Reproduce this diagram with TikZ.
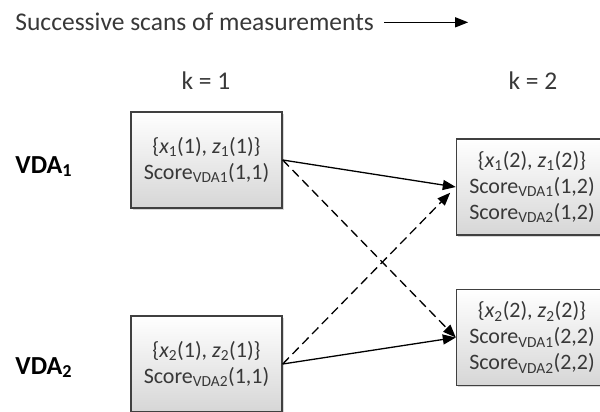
\documentclass[tikz,border=0pt]{standalone}
\usepackage{fontspec}
\setmainfont{Carlito}
\usepackage{xcolor}
\usepackage{tikz}
\usetikzlibrary{positioning, arrows.meta, calc, shadows}
\definecolor{txtgray}{HTML}{383838}
\definecolor{boxline}{HTML}{404040}
\tikzset{
  scanbox/.style={draw=boxline, rectangle, line width=1.4pt, minimum width=151pt,
                  minimum height=96pt, align=center, inner sep=2pt,
                  top color=white, bottom color=black!16, text=txtgray,
                  drop shadow={shadow xshift=1.5pt, shadow yshift=-1.5pt, fill=black!30},
                  font=\fontsize{22}{26}\selectfont},
  flow/.style ={-{Triangle[length=13pt,width=10pt]}, line width=1.3pt},
  cross/.style={flow, dash pattern=on 9pt off 5pt}
}

\begin{document}
\begin{tikzpicture}[
  x=1pt, y=-1pt,
  lbl/.style={font=\fontsize{25.5}{30}\selectfont, text=txtgray, inner sep=0pt},
  vda/.style={font=\fontsize{26}{30}\selectfont\bfseries, inner sep=0pt},
  >=latex, thick
]
  \useasboundingbox (0,0) rectangle (600,412);

  \node[lbl, anchor=base west] (title) at (15,31) {Successive scans of measurements};
  \coordinate (scanend) at ($(title.east)+(94,0)$);
  \draw[flow, line width=1.2pt] ([xshift=10pt]title.east) -- (scanend);

  \node[lbl, anchor=base] (k1) at (206,89) {k = 1};
  \node[lbl, anchor=base] (k2) at (533,89) {k = 2};

  \node[vda, anchor=base west] (v1) at (15,173) {VDA\textsubscript{1}};
  \node[vda, anchor=base west] (v2) at (15,374) {VDA\textsubscript{2}};

  \node[scanbox] (b11) at (206.5,160)
    {\{\textit{x}\textsubscript{1}(1), \textit{z}\textsubscript{1}(1)\}\\
     Score\textsubscript{VDA1}(1,1)};
  \node[scanbox] (b21) at (206.5,364)
    {\{\textit{x}\textsubscript{2}(1), \textit{z}\textsubscript{2}(1)\}\\
     Score\textsubscript{VDA2}(1,1)};
  \node[scanbox] (b12) at (532,187)
    {\{\textit{x}\textsubscript{1}(2), \textit{z}\textsubscript{1}(2)\}\\
     Score\textsubscript{VDA1}(1,2)\\
     Score\textsubscript{VDA2}(1,2)};
  \node[scanbox] (b22) at (532,337.5)
    {\{\textit{x}\textsubscript{2}(2), \textit{z}\textsubscript{2}(2)\}\\
     Score\textsubscript{VDA1}(2,2)\\
     Score\textsubscript{VDA2}(2,2)};

  % associations between scans
  \draw[flow]  (b11.east) -- (b12.west);
  \draw[cross] (b11.east) -- (b22.west);
  \draw[flow]  (b21.east) -- (b22.west);
  \draw[cross, shorten >=8pt] (b21.east) -- (b12.west);
\end{tikzpicture}
\end{document}
